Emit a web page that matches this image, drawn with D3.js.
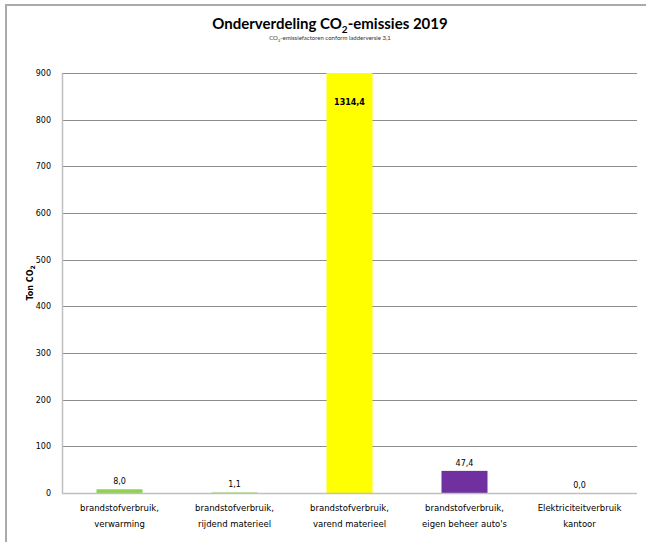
<!DOCTYPE html>
<html>
<head>
<meta charset="utf-8">
<script src="https://cdn.jsdelivr.net/npm/d3@7"></script>
<style>
  body { margin: 0; background: #fff; }
  svg { display: block; }
</style>
</head>
<body>
<div class="chart-area"></div>
<script>
// chart data
var categories = [
  ["brandstofverbruik,", "verwarming"],
  ["brandstofverbruik,", "rijdend materieel"],
  ["brandstofverbruik,", "varend materieel"],
  ["brandstofverbruik,", "eigen beheer auto's"],
  ["Elektriciteitverbruik", "kantoor"]
];
var values = [8.0, 1.1, 1314.4, 47.4, 0.0];
var barColors = ["#92d050", "#92d050", "#ffff00", "#7030a0", "#4f81bd"];
var yTicks = [0, 100, 200, 300, 400, 500, 600, 700, 800, 900];

var W = 646, H = 542;
var margin = {top: 73, right: 9, bottom: 49, left: 62},
    width = W - margin.left - margin.right,
    height = H - margin.top - margin.bottom;

var svg = d3.select(".chart-area").append("svg")
    .attr("width", W)
    .attr("height", H);

// outer frame (only top + left visible in the picture)
svg.append("line").attr("x1", 6).attr("x2", W).attr("y1", 5).attr("y2", 5)
    .attr("stroke", "#aaa").attr("stroke-width", 2);
svg.append("line").attr("x1", 6).attr("x2", 6).attr("y1", 4).attr("y2", H)
    .attr("stroke", "#aaa").attr("stroke-width", 2);

// title
var title = svg.append("text")
    .attr("x", 330).attr("y", 29)
    .attr("text-anchor", "middle")
    .style("font", "bold 15px Lato, 'Open Sans', sans-serif")
    .style("fill", "#000");
title.append("tspan").text("Onderverdeling CO");
title.append("tspan").attr("dy", 4).style("font-size", "10px").text("2");
title.append("tspan").attr("dy", -4).text("-emissies 2019");

var sub = svg.append("text")
    .attr("x", 330).attr("y", 40)
    .attr("text-anchor", "middle")
    .style("font", "6px Lato, sans-serif")
    .style("fill", "#333");
sub.append("tspan").text("CO");
sub.append("tspan").attr("dy", 1.5).style("font-size", "4px").text("2");
sub.append("tspan").attr("dy", -1.5).text("-emissiefactoren conform ladderversie 3,1");

var g = svg.append("g")
    .attr("transform", "translate(" + margin.left + "," + margin.top + ")");

var x = d3.scaleBand()
    .domain(d3.range(categories.length))
    .range([0, width])
    .paddingInner(0.6)
    .paddingOuter(0.3);

var y = d3.scaleLinear()
    .domain([0, 900])
    .range([height, 0])
    .clamp(true);

// gridlines
g.append("g")
    .selectAll("line")
    .data(yTicks.filter(function(d){ return d > 0; }))
    .enter().append("line")
    .attr("x1", 0).attr("x2", width)
    .attr("y1", function(d){ return Math.round(y(d)) + 0.5; })
    .attr("y2", function(d){ return Math.round(y(d)) + 0.5; })
    .attr("stroke", "#8c8c8c")
    .attr("stroke-width", 1);

// bars
g.selectAll(".bar")
    .data(values)
    .enter().append("rect")
    .attr("class", "bar")
    .attr("x", function(d, i){ return x(i); })
    .attr("width", x.bandwidth())
    .attr("y", function(d){ return y(d); })
    .attr("height", function(d){ return height - y(d); })
    .attr("fill", function(d, i){ return barColors[i]; });

// y axis
var yAxis = g.append("g")
    .call(d3.axisLeft(y).tickValues(yTicks).tickSize(0).tickPadding(11));
yAxis.select(".domain").attr("stroke", "#bfbfbf").attr("stroke-width", 1.5);
yAxis.selectAll("text")
    .style("font", "8px 'DejaVu Sans', Verdana, sans-serif")
    .style("fill", "#000");

// x axis baseline
g.append("line")
    .attr("x1", 0).attr("x2", width)
    .attr("y1", height + 0.5).attr("y2", height + 0.5)
    .attr("stroke", "#bfbfbf").attr("stroke-width", 1.5);

// category labels
var labels = g.append("g").selectAll("text")
    .data(categories)
    .enter().append("text")
    .attr("x", function(d, i){ return x(i) + x.bandwidth() / 2; })
    .attr("y", height + 18)
    .attr("text-anchor", "middle")
    .style("font", "8.5px 'DejaVu Sans', Verdana, sans-serif")
    .style("fill", "#000");
labels.append("tspan").text(function(d){ return d[0]; });
labels.append("tspan")
    .attr("x", function(d, i){ return x(i) + x.bandwidth() / 2; })
    .attr("dy", 16)
    .text(function(d){ return d[1]; });

// data labels
var fmt = function(v){ return v.toFixed(1).replace(".", ","); };
g.selectAll(".dlabel")
    .data(values)
    .enter().append("text")
    .attr("class", "dlabel")
    .attr("x", function(d, i){ return x(i) + x.bandwidth() / 2; })
    .attr("y", function(d){ return d > 900 ? y(900) + 32 : y(d) - 5; })
    .attr("text-anchor", "middle")
    .style("font", function(d){ return d > 900 ? "bold 8px 'DejaVu Sans', Verdana, sans-serif" : "8px 'DejaVu Sans', Verdana, sans-serif"; })
    .style("fill", "#000")
    .text(fmt);

// y axis title
var yt = svg.append("text")
    .attr("transform", "translate(33," + (margin.top + height / 2) + ") rotate(-90)")
    .attr("text-anchor", "middle")
    .style("font", "bold 8px 'DejaVu Sans', Verdana, sans-serif")
    .style("fill", "#000");
yt.append("tspan").text("Ton CO");
yt.append("tspan").attr("dy", 2).style("font-size", "6px").text("2");
</script>
</body>
</html>
